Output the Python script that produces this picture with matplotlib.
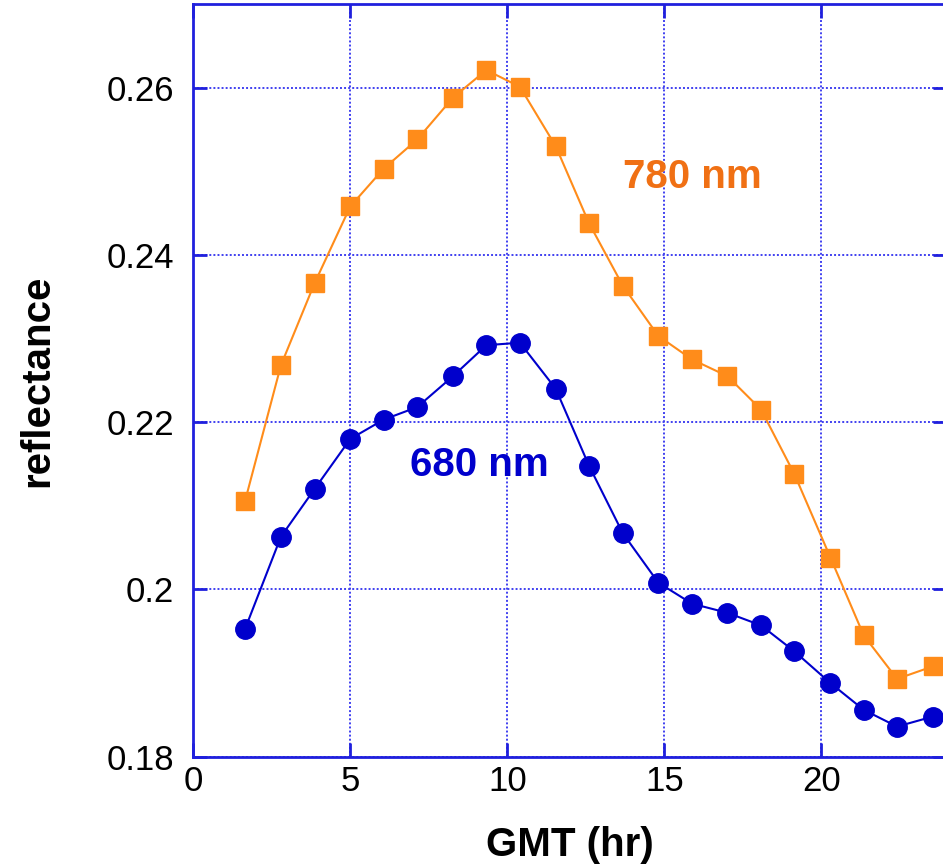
"""
Diurnal reflectance at 680 nm and 780 nm versus GMT.
"""

import matplotlib

matplotlib.use("Agg")
import matplotlib.pyplot as plt

plt.rcParams["font.family"] = ["Liberation Sans", "DejaVu Sans"]

# GMT hour of each sample
gmt_hr = [1.65, 2.79, 3.86, 5.00, 6.06, 7.13, 8.27, 9.33, 10.40, 11.54, 12.60,
          13.68, 14.81, 15.88, 17.01, 18.08, 19.14, 20.29, 21.35, 22.41, 23.55]

refl_780 = [0.2106, 0.2268, 0.2366, 0.2458, 0.2503, 0.2538, 0.2588, 0.2621,
            0.2601, 0.2530, 0.2438, 0.2363, 0.2303, 0.2275, 0.2255, 0.2215,
            0.2138, 0.2038, 0.1945, 0.1893, 0.1908]

refl_680 = [0.1953, 0.2063, 0.2120, 0.2180, 0.2203, 0.2218, 0.2255, 0.2292,
            0.2295, 0.2240, 0.2148, 0.2067, 0.2008, 0.1983, 0.1972, 0.1957,
            0.1926, 0.1888, 0.1856, 0.1836, 0.1848]

x_ticks = [0, 5, 10, 15, 20]
y_ticks = [0.18, 0.20, 0.22, 0.24, 0.26]
y_tick_labels = ["0.18", "0.2", "0.22", "0.24", "0.26"]

ORANGE = "#ff8c1a"
ORANGE_TEXT = "#f07014"
BLUE = "#0000cc"
FRAME = "#2020dd"
GRID = "#4040f0"

fig = plt.figure(figsize=(9.43, 8.65), dpi=100)
ax = fig.add_axes([0.205, 0.1252, 0.7992, 0.8702])

ax.plot(gmt_hr, refl_780, color=ORANGE, lw=1.5, marker="s", ms=13.5,
        mec=ORANGE, mfc=ORANGE, zorder=3)
ax.plot(gmt_hr, refl_680, color=BLUE, lw=1.5, marker="o", ms=14,
        mec=BLUE, mfc=BLUE, zorder=3)

ax.text(15.88, 0.2493, "780 nm", color=ORANGE_TEXT, fontsize=29,
        fontweight="bold", ha="center", va="center")
ax.text(9.11, 0.2149, "680 nm", color=BLUE, fontsize=29,
        fontweight="bold", ha="center", va="center")

ax.set_xlim(0, 24)
ax.set_ylim(0.18, 0.27)
ax.set_xticks(x_ticks)
ax.set_yticks(y_ticks)
ax.set_yticklabels(y_tick_labels)

ax.grid(True, color=GRID, linestyle=(0, (1, 1.1)), linewidth=1.4)
ax.set_axisbelow(True)

for spine in ax.spines.values():
    spine.set_color(FRAME)
    spine.set_linewidth(2)

ax.tick_params(axis="both", direction="in", length=10, width=2,
               color=FRAME, labelsize=25, top=True, right=True)
ax.tick_params(axis="y", pad=14)
ax.tick_params(axis="x", pad=6)

ax.set_xlabel("GMT (hr)", fontsize=29, fontweight="bold", labelpad=20)
ax.set_ylabel("reflectance", fontsize=29, fontweight="bold", labelpad=36)

fig.savefig("out.png", dpi=100)
